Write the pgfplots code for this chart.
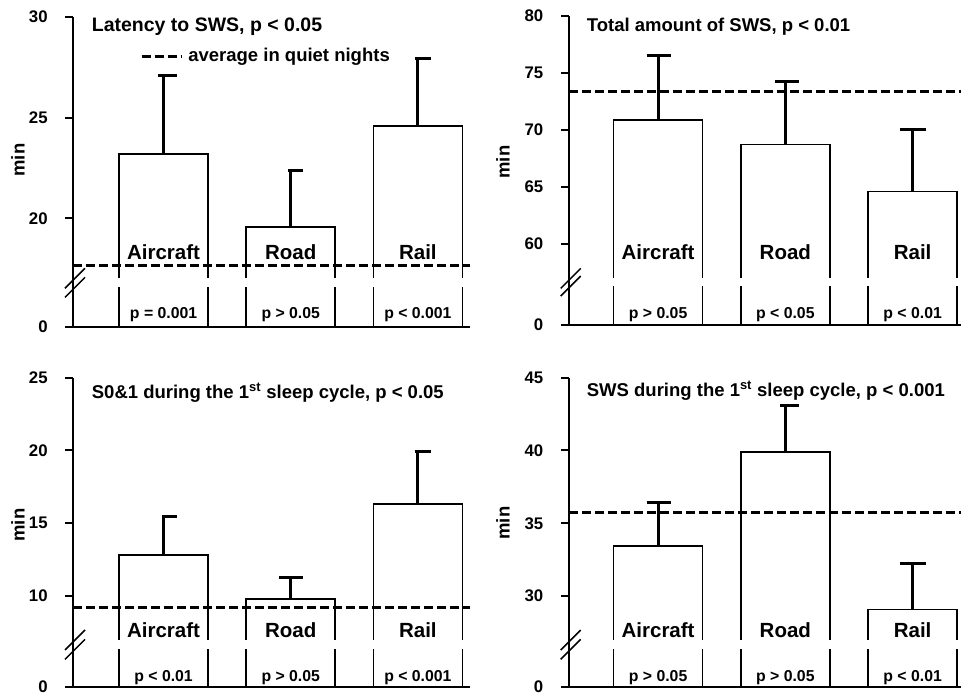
\documentclass[border=0pt]{standalone}
\usepackage{pgfplots}
\pgfplotsset{compat=1.18}
\usepackage{fontspec}
\setmainfont{Liberation Sans}
\newcommand\tf{\fontsize{16.8}{18}\selectfont\bfseries}
\newcommand\ttl{\fontsize{18.5}{20}\selectfont\bfseries}
\newcommand\ttlb{\fontsize{19.5}{21}\selectfont\bfseries}
\newcommand\lbl{\fontsize{20.5}{22}\selectfont\bfseries}
\newcommand\pf{\fontsize{15.8}{17}\selectfont\bfseries}
\tikzset{
 myavg/.style={line width=3pt, black, dash pattern=on 9pt off 4pt},
 brk/.style={line width=1.5pt, black},
}
\pgfplotsset{
 panel/.style={
   scale only axis, anchor=south west,
   axis x line*=bottom, axis y line*=left,
   axis line style={line width=2pt,-},
   every outer x axis line/.append style={-},
   every outer y axis line/.append style={-},
   xtick=\empty,
   tick align=outside, major tick length=8pt,
   tick style={line width=2pt, black},
   yticklabel style={font=\tf, anchor=east, inner sep=0pt, xshift=-17.5pt},
   clip mode=individual,
 },
 mybars/.style={ybar, bar width=0.70, fill=white, draw=black, line width=1.5pt,
   error bars/y dir=plus, error bars/y explicit, error bars/error mark=none,
   error bars/error bar style={line width=3pt, black, solid}},
 mycaps/.style={line width=3pt, black, unbounded coords=jump, mark=none},
}
\begin{document}
\begin{tikzpicture}[x=1pt,y=1pt]
\path[use as bounding box] (0,0) rectangle (961,-694);

% ---------- Panel 1 ----------
\begin{axis}[panel, at={(73.3pt,-326.7pt)}, width=396.7pt, height=310pt,
  xmin=0.29, xmax=3.41, ymin=14.63, ymax=30,
  ytick={14.63,20,25,30}, yticklabels={0,20,25,30}]
\addplot[mybars] coordinates {(1,23.19) +- (0,3.88) (2,19.58) +- (0,2.81) (3,24.59) +- (0,3.34)};
\addplot[mycaps] coordinates {(0.956,27.07) (1.105,27.07) (1.5,nan) (1.98,22.39) (2.10,22.39) (2.5,nan) (2.98,27.93) (3.105,27.93)};
\fill[white] (axis cs:0.6,16.58) rectangle (axis cs:3.41,17.03);
\addplot[myavg, mark=none] coordinates {(0.29,17.68) (3.41,17.68)};
\draw[brk] ([shift={(-8.3pt,-10pt)}]axis cs:0.29,17.03) -- ([shift={(11.7pt,10pt)}]axis cs:0.29,17.03);
\draw[brk] ([shift={(-8.3pt,-10pt)}]axis cs:0.29,16.58) -- ([shift={(11.7pt,10pt)}]axis cs:0.29,16.58);
\node[font=\ttlb, anchor=base west, inner sep=0pt, xshift=18.4pt] at (axis cs:0.29,29.26) {Latency to SWS, p < 0.05};
\draw[myavg] (axis cs:0.827,28.02) -- (axis cs:1.141,28.02);
\node[font=\ttl, anchor=base west, inner sep=0pt] at (axis cs:1.193,27.77) {average in quiet nights};
\node[font=\lbl, anchor=base] at (axis cs:1,17.97) {Aircraft};
\node[font=\lbl, anchor=base] at (axis cs:2,17.97) {Road};
\node[font=\lbl, anchor=base] at (axis cs:3,17.97) {Rail};
\node[font=\pf, anchor=base] at (axis cs:1,15.04) {p = 0.001};
\node[font=\pf, anchor=base] at (axis cs:2,15.04) {p > 0.05};
\node[font=\pf, anchor=base] at (axis cs:3,15.04) {p < 0.001};
\end{axis}

% ---------- Panel 2 ----------
\begin{axis}[panel, at={(569pt,-325pt)}, width=392pt, height=309.3pt,
  xmin=0.30, xmax=3.38, ymin=52.87, ymax=80,
  ytick={52.87,60,65,70,75,80}, yticklabels={0,60,65,70,75,80}]
\addplot[mybars] coordinates {(1,70.85) +- (0,5.68) (2,68.72) +- (0,5.55) (3,64.6) +- (0,5.4)};
\addplot[mycaps] coordinates {(0.91,76.53) (1.10,76.53) (1.5,nan) (1.92,74.27) (2.11,74.27) (2.5,nan) (2.90,70.0) (3.105,70.0)};
\fill[white] (axis cs:0.6,56.29) rectangle (axis cs:3.38,56.96);
\addplot[myavg, mark=none] coordinates {(0.30,73.37) (3.38,73.37)};
\draw[brk] ([shift={(-8.3pt,-10pt)}]axis cs:0.30,56.96) -- ([shift={(11.7pt,10pt)}]axis cs:0.30,56.96);
\draw[brk] ([shift={(-8.3pt,-10pt)}]axis cs:0.30,56.29) -- ([shift={(11.7pt,10pt)}]axis cs:0.30,56.29);
\node[font=\ttl, anchor=base west, inner sep=0pt, xshift=17.7pt] at (axis cs:0.30,78.6) {Total amount of SWS, p < 0.01};
\node[font=\lbl, anchor=base] at (axis cs:1,58.63) {Aircraft};
\node[font=\lbl, anchor=base] at (axis cs:2,58.63) {Road};
\node[font=\lbl, anchor=base] at (axis cs:3,58.63) {Rail};
\node[font=\pf, anchor=base] at (axis cs:1,53.46) {p > 0.05};
\node[font=\pf, anchor=base] at (axis cs:2,53.46) {p < 0.05};
\node[font=\pf, anchor=base] at (axis cs:3,53.46) {p < 0.01};
\end{axis}

% ---------- Panel 3 ----------
\begin{axis}[panel, at={(73.3pt,-687pt)}, width=396.7pt, height=309.3pt,
  xmin=0.29, xmax=3.41, ymin=3.75, ymax=25,
  ytick={3.75,10,15,20,25}, yticklabels={\raisebox{1.5pt}{0},10,15,20,25}]
\addplot[mybars] coordinates {(1,12.82) +- (0,2.63) (2,9.81) +- (0,1.43) (3,16.32) +- (0,3.62)};
\addplot[mycaps] coordinates {(0.99,15.45) (1.105,15.45) (1.5,nan) (1.91,11.24) (2.10,11.24) (2.5,nan) (2.975,19.94) (3.105,19.94)};
\fill[white] (axis cs:0.6,6.34) rectangle (axis cs:3.41,6.98);
\addplot[myavg, mark=none] coordinates {(0.29,9.22) (3.41,9.22)};
\draw[brk] ([shift={(-8.3pt,-10pt)}]axis cs:0.29,6.98) -- ([shift={(11.7pt,10pt)}]axis cs:0.29,6.98);
\draw[brk] ([shift={(-8.3pt,-10pt)}]axis cs:0.29,6.34) -- ([shift={(11.7pt,10pt)}]axis cs:0.29,6.34);
\node[font=\ttl, anchor=base west, inner sep=0pt, xshift=18.4pt] at (axis cs:0.29,23.59) {S0\&1 during the 1\textsuperscript{st} sleep cycle, p < 0.05};
\node[font=\lbl, anchor=base] at (axis cs:1,7.14) {Aircraft};
\node[font=\lbl, anchor=base] at (axis cs:2,7.14) {Road};
\node[font=\lbl, anchor=base] at (axis cs:3,7.14) {Rail};
\node[font=\pf, anchor=base] at (axis cs:1,4.11) {p < 0.01};
\node[font=\pf, anchor=base] at (axis cs:2,4.11) {p > 0.05};
\node[font=\pf, anchor=base] at (axis cs:3,4.11) {p < 0.001};
\end{axis}

% ---------- Panel 4 ----------
\begin{axis}[panel, at={(569pt,-687pt)}, width=392pt, height=309.3pt,
  xmin=0.30, xmax=3.38, ymin=23.75, ymax=45,
  ytick={23.75,30,35,40,45}, yticklabels={\raisebox{1.5pt}{0},30,35,40,45}]
\addplot[mybars] coordinates {(1,33.45) +- (0,2.96) (2,39.91) +- (0,3.21) (3,29.09) +- (0,3.16)};
\addplot[mycaps] coordinates {(0.91,36.41) (1.10,36.41) (1.5,nan) (1.96,43.12) (2.11,43.12) (2.5,nan) (2.90,32.25) (3.105,32.25)};
\fill[white] (axis cs:0.6,26.34) rectangle (axis cs:3.38,26.98);
\addplot[myavg, mark=none] coordinates {(0.30,35.72) (3.38,35.72)};
\draw[brk] ([shift={(-8.3pt,-10pt)}]axis cs:0.30,26.98) -- ([shift={(11.7pt,10pt)}]axis cs:0.30,26.98);
\draw[brk] ([shift={(-8.3pt,-10pt)}]axis cs:0.30,26.34) -- ([shift={(11.7pt,10pt)}]axis cs:0.30,26.34);
\node[font=\ttl, anchor=base west, inner sep=0pt, xshift=17.7pt] at (axis cs:0.30,43.74) {SWS during the 1\textsuperscript{st} sleep cycle, p < 0.001};
\node[font=\lbl, anchor=base] at (axis cs:1,27.14) {Aircraft};
\node[font=\lbl, anchor=base] at (axis cs:2,27.14) {Road};
\node[font=\lbl, anchor=base] at (axis cs:3,27.14) {Rail};
\node[font=\pf, anchor=base] at (axis cs:1,24.11) {p > 0.05};
\node[font=\pf, anchor=base] at (axis cs:2,24.11) {p > 0.05};
\node[font=\pf, anchor=base] at (axis cs:3,24.11) {p < 0.01};
\end{axis}

% y-axis labels
\node[font=\ttl, rotate=90] at (18pt,-160pt) {min};
\node[font=\ttl, rotate=90] at (503pt,-162pt) {min};
\node[font=\ttl, rotate=90] at (18pt,-525pt) {min};
\node[font=\ttl, rotate=90] at (503pt,-523pt) {min};
\end{tikzpicture}
\end{document}
